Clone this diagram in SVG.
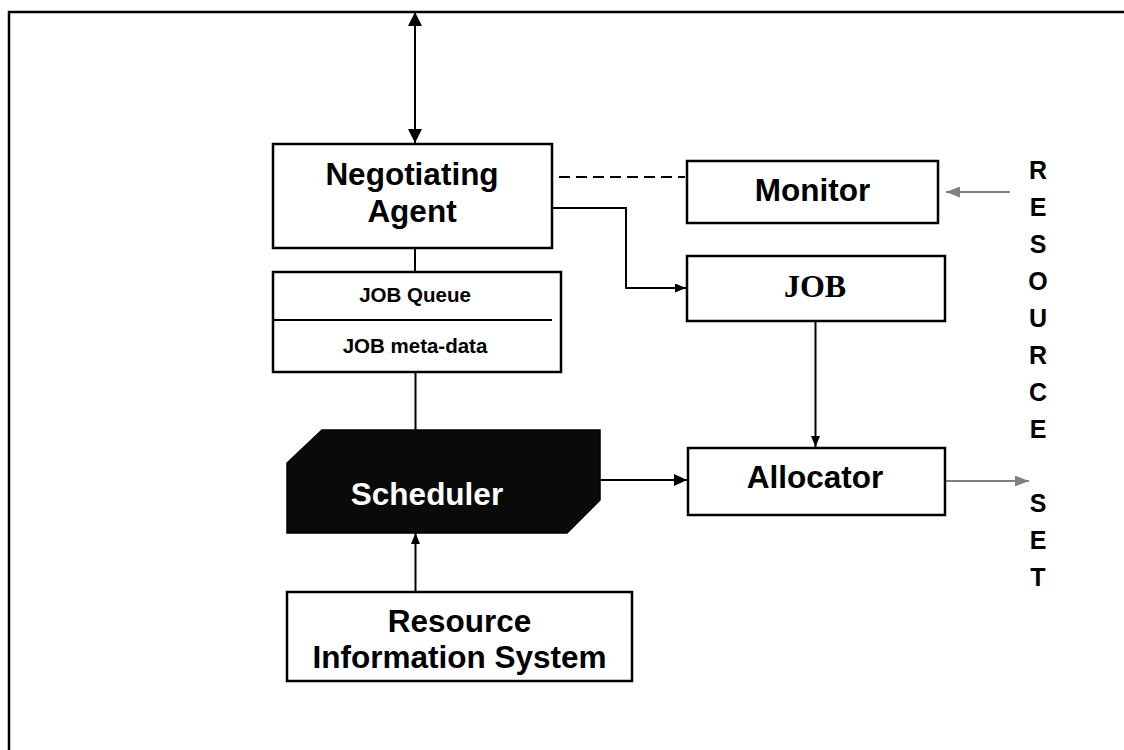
<svg xmlns="http://www.w3.org/2000/svg" width="1124" height="750" viewBox="0 0 1124 750">
<style>
.box{fill:#fff;stroke:#000;stroke-width:2.5}
.ln{fill:none;stroke:#000;stroke-width:2}
.gl{fill:none;stroke:#808080;stroke-width:2}
.t{font-family:"Liberation Sans",Arial,sans-serif;font-weight:bold;text-anchor:middle;fill:#000}
.big{font-size:31.5px}
.sm{font-size:20.5px}
.ser{font-family:"Liberation Serif","Times New Roman",serif;font-weight:bold;font-size:32px;text-anchor:middle;fill:#000}
.rs{font-family:"Liberation Sans",Arial,sans-serif;font-weight:bold;font-size:25px;text-anchor:middle;fill:#000}
</style>
<defs>
<marker id="ab" markerUnits="userSpaceOnUse" markerWidth="14" markerHeight="14" refX="14" refY="7" orient="auto-start-reverse"><path d="M0,0 L14,7 L0,14 z" fill="#000"/></marker>
<marker id="am" markerUnits="userSpaceOnUse" markerWidth="13" markerHeight="12" refX="13" refY="6" orient="auto"><path d="M0,0 L13,6 L0,12 z" fill="#000"/></marker>
<marker id="as" markerUnits="userSpaceOnUse" markerWidth="11" markerHeight="9" refX="11" refY="4.5" orient="auto"><path d="M0,0 L11,4.5 L0,9 z" fill="#000"/></marker>
<marker id="ag" markerUnits="userSpaceOnUse" markerWidth="14" markerHeight="11" refX="14" refY="5.5" orient="auto"><path d="M0,0 L14,5.5 L0,11 z" fill="#808080"/></marker>
</defs>
<rect width="1124" height="750" fill="#fff"/>
<g id="frame"><path d="M9,750 L9,12 L1124,12" fill="none" stroke="#000" stroke-width="2.5"/></g>
<g id="connectors">
<line class="ln" x1="415" y1="12" x2="415" y2="143" marker-start="url(#ab)" marker-end="url(#ab)"/>
<line class="ln" x1="415" y1="248" x2="415" y2="272"/>
<line x1="559" y1="177" x2="685" y2="177" stroke="#000" stroke-width="2" stroke-dasharray="11,6"/>
<path class="ln" d="M544,208 L626,208 L626,288 L686,288" marker-end="url(#as)"/>
<line class="ln" x1="815.5" y1="321" x2="815.5" y2="447" marker-end="url(#as)"/>
<line class="ln" x1="415.5" y1="372" x2="415.5" y2="430"/>
<line class="ln" x1="600" y1="480" x2="687" y2="480" marker-end="url(#am)"/>
<line class="ln" x1="415.5" y1="592" x2="415.5" y2="533" marker-end="url(#as)"/>
<line class="gl" x1="1010" y1="192" x2="946" y2="192" marker-end="url(#ag)"/>
<line class="gl" x1="945" y1="481" x2="1029" y2="481" marker-end="url(#ag)"/>
</g>
<g id="negotiating-agent">
<rect class="box" x="273" y="144" width="279" height="104"/>
<text class="t big" x="412" y="185">Negotiating</text>
<text class="t big" x="412" y="222">Agent</text>
</g>
<g id="job-queue">
<rect class="box" x="273" y="272" width="288" height="100"/>
<line x1="273" y1="320" x2="552" y2="320" stroke="#000" stroke-width="2"/>
<text class="t sm" x="415" y="302">JOB Queue</text>
<text class="t sm" x="415" y="353">JOB meta-data</text>
</g>
<g id="monitor">
<rect class="box" x="687" y="161" width="251" height="62"/>
<text class="t big" x="812.5" y="201">Monitor</text>
</g>
<g id="job">
<rect class="box" x="687" y="256" width="258" height="65"/>
<text class="ser" x="815" y="297">JOB</text>
</g>
<g id="scheduler">
<polygon points="322,430 600,430 600,500 567,533 287,533 287,463" fill="#0a0a0a" stroke="#000" stroke-width="1.5"/>
<text class="t big" x="427" y="505" fill="#fff" style="fill:#fff">Scheduler</text>
</g>
<g id="allocator">
<rect class="box" x="688" y="448" width="257" height="67"/>
<text class="t big" x="815" y="488">Allocator</text>
</g>
<g id="resource-information-system">
<rect class="box" x="287" y="592" width="345" height="89"/>
<text class="t big" x="459.5" y="632">Resource</text>
<text class="t big" x="459.5" y="668">Information System</text>
</g>
<g id="resource-set">
<text class="rs" x="1038" y="179">R</text>
<text class="rs" x="1038" y="216">E</text>
<text class="rs" x="1038" y="253">S</text>
<text class="rs" x="1038" y="290">O</text>
<text class="rs" x="1038" y="327">U</text>
<text class="rs" x="1038" y="364">R</text>
<text class="rs" x="1038" y="401">C</text>
<text class="rs" x="1038" y="438">E</text>
<text class="rs" x="1038" y="512">S</text>
<text class="rs" x="1038" y="549">E</text>
<text class="rs" x="1038" y="586">T</text>
</g>
</svg>
